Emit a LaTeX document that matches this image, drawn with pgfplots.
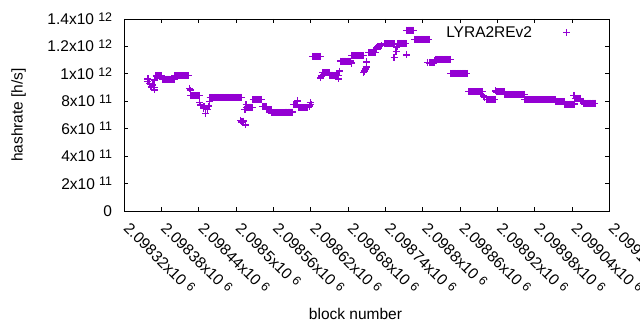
\documentclass[border=0pt]{standalone}
\usepackage{pgfplots}
\pgfplotsset{compat=1.18}
\usepackage{pgfplotstable}
\usepackage{fontspec}
\setmainfont{Liberation Sans}
\definecolor{lyra}{HTML}{9400D3}
\newcommand{\sci}[2]{#1x10\hspace{4.3bp}\raisebox{3.3bp}{\fontsize{12.4bp}{12bp}\selectfont #2}}

\pgfplotstableread{
x y
2098358 0.963e12
2098358 0.943e12
2098361 0.930e12
2098363 0.910e12
2098364 0.905e12
2098366 0.920e12
2098368 0.900e12
2098369 0.883e12
2098369 0.955e12
2098371 0.985e12
2098372 0.985e12
2098373 0.985e12
2098375 0.985e12
2098377 0.985e12
2098379 0.985e12
2098380 0.985e12
2098381 0.962e12
2098382 0.962e12
2098383 0.962e12
2098385 0.962e12
2098387 0.962e12
2098389 0.962e12
2098391 0.962e12
2098393 0.962e12
2098395 0.962e12
2098397 0.962e12
2098399 0.962e12
2098400 0.962e12
2098401 0.988e12
2098403 0.988e12
2098405 0.988e12
2098407 0.988e12
2098409 0.988e12
2098411 0.988e12
2098413 0.988e12
2098415 0.988e12
2098417 0.988e12
2098419 0.988e12
2098421 0.988e12
2098423 0.988e12
2098425 0.895e12
2098426 0.882e12
2098427 0.843e12
2098429 0.843e12
2098431 0.843e12
2098433 0.843e12
2098435 0.843e12
2098437 0.843e12
2098439 0.843e12
2098441 0.843e12
2098441 0.790e12
2098443 0.772e12
2098447 0.750e12
2098448 0.760e12
2098451 0.710e12
2098454 0.740e12
2098456 0.765e12
2098457 0.800e12
2098458 0.829e12
2098460 0.829e12
2098462 0.829e12
2098464 0.829e12
2098466 0.829e12
2098468 0.829e12
2098470 0.829e12
2098472 0.829e12
2098474 0.829e12
2098476 0.829e12
2098478 0.829e12
2098480 0.829e12
2098482 0.829e12
2098484 0.829e12
2098486 0.829e12
2098488 0.829e12
2098490 0.829e12
2098492 0.829e12
2098494 0.829e12
2098496 0.829e12
2098498 0.829e12
2098500 0.829e12
2098502 0.829e12
2098504 0.829e12
2098506 0.829e12
2098508 0.829e12
2098507 0.660e12
2098509 0.650e12
2098511 0.655e12
2098512 0.652e12
2098515 0.628e12
2098514 0.742e12
2098516 0.775e12
2098517 0.757e12
2098519 0.757e12
2098521 0.757e12
2098523 0.757e12
2098525 0.757e12
2098526 0.757e12
2098527 0.813e12
2098529 0.813e12
2098531 0.813e12
2098533 0.813e12
2098535 0.813e12
2098537 0.813e12
2098539 0.813e12
2098541 0.813e12
2098542 0.760e12
2098544 0.760e12
2098546 0.760e12
2098548 0.760e12
2098549 0.738e12
2098551 0.738e12
2098553 0.738e12
2098555 0.738e12
2098556 0.738e12
2098557 0.715e12
2098559 0.715e12
2098561 0.715e12
2098563 0.715e12
2098565 0.715e12
2098567 0.715e12
2098569 0.715e12
2098571 0.715e12
2098573 0.715e12
2098575 0.715e12
2098577 0.715e12
2098578 0.715e12
2098579 0.721e12
2098581 0.721e12
2098583 0.721e12
2098585 0.721e12
2098587 0.721e12
2098589 0.721e12
2098591 0.721e12
2098592 0.775e12
2098594 0.775e12
2098596 0.775e12
2098598 0.775e12
2098599 0.803e12
2098600 0.753e12
2098602 0.753e12
2098604 0.753e12
2098606 0.753e12
2098608 0.753e12
2098610 0.753e12
2098612 0.753e12
2098614 0.753e12
2098615 0.753e12
2098618 0.765e12
2098619 0.790e12
2098620 0.775e12
2098623 1.127e12
2098625 1.127e12
2098627 1.127e12
2098629 1.127e12
2098631 1.127e12
2098633 1.127e12
2098635 1.127e12
2098636 0.970e12
2098637 0.985e12
2098639 1.009e12
2098641 1.009e12
2098643 1.009e12
2098645 1.009e12
2098647 1.009e12
2098649 1.009e12
2098650 1.009e12
2098651 0.990e12
2098653 0.990e12
2098655 0.990e12
2098657 0.990e12
2098659 0.990e12
2098661 0.990e12
2098663 0.990e12
2098664 0.990e12
2098665 0.963e12
2098666 1.020e12
2098668 1.093e12
2098670 1.093e12
2098672 1.093e12
2098674 1.093e12
2098676 1.093e12
2098678 1.093e12
2098680 1.093e12
2098682 1.093e12
2098683 1.093e12
2098685 1.078e12
2098686 1.133e12
2098688 1.133e12
2098690 1.133e12
2098692 1.133e12
2098694 1.133e12
2098696 1.133e12
2098698 1.133e12
2098700 1.133e12
2098702 1.133e12
2098704 1.133e12
2098705 1.012e12
2098706 1.020e12
2098708 1.035e12
2098709 1.050e12
2098710 1.087e12
2098713 1.155e12
2098715 1.155e12
2098717 1.155e12
2098719 1.155e12
2098721 1.155e12
2098723 1.155e12
2098724 1.155e12
2098725 1.185e12
2098726 1.190e12
2098728 1.200e12
2098731 1.200e12
2098734 1.205e12
2098738 1.218e12
2098740 1.218e12
2098742 1.218e12
2098744 1.218e12
2098746 1.218e12
2098748 1.218e12
2098750 1.218e12
2098752 1.218e12
2098754 1.218e12
2098755 1.218e12
2098754 1.121e12
2098757 1.165e12
2098758 1.190e12
2098759 1.200e12
2098760 1.223e12
2098762 1.223e12
2098764 1.223e12
2098766 1.223e12
2098768 1.223e12
2098770 1.223e12
2098772 1.223e12
2098773 1.223e12
2098774 1.138e12
2098774 1.318e12
2098776 1.318e12
2098778 1.318e12
2098780 1.318e12
2098782 1.318e12
2098784 1.318e12
2098785 1.318e12
2098787 1.252e12
2098789 1.252e12
2098791 1.252e12
2098793 1.252e12
2098795 1.252e12
2098797 1.252e12
2098799 1.252e12
2098801 1.252e12
2098803 1.252e12
2098805 1.252e12
2098807 1.252e12
2098809 1.252e12
2098810 1.252e12
2098808 1.082e12
2098811 1.080e12
2098813 1.080e12
2098815 1.080e12
2098817 1.080e12
2098818 1.080e12
2098819 1.095e12
2098820 1.105e12
2098822 1.105e12
2098824 1.105e12
2098826 1.105e12
2098828 1.105e12
2098830 1.105e12
2098832 1.105e12
2098834 1.105e12
2098836 1.105e12
2098838 1.105e12
2098840 1.105e12
2098842 1.105e12
2098844 1.105e12
2098845 1.004e12
2098847 1.004e12
2098849 1.004e12
2098851 1.004e12
2098853 1.004e12
2098855 1.004e12
2098857 1.004e12
2098859 1.004e12
2098861 1.004e12
2098863 1.004e12
2098865 1.004e12
2098867 1.004e12
2098869 1.004e12
2098871 1.004e12
2098874 0.870e12
2098876 0.870e12
2098878 0.870e12
2098880 0.870e12
2098882 0.870e12
2098884 0.870e12
2098886 0.870e12
2098888 0.870e12
2098890 0.870e12
2098892 0.870e12
2098894 0.870e12
2098896 0.870e12
2098898 0.838e12
2098899 0.828e12
2098902 0.813e12
2098904 0.813e12
2098906 0.813e12
2098908 0.813e12
2098910 0.813e12
2098912 0.813e12
2098914 0.813e12
2098916 0.813e12
2098917 0.875e12
2098919 0.868e12
2098921 0.868e12
2098923 0.868e12
2098925 0.868e12
2098927 0.868e12
2098929 0.868e12
2098931 0.868e12
2098932 0.851e12
2098934 0.851e12
2098936 0.851e12
2098938 0.851e12
2098940 0.851e12
2098942 0.851e12
2098944 0.851e12
2098946 0.851e12
2098948 0.851e12
2098950 0.851e12
2098952 0.851e12
2098954 0.851e12
2098956 0.851e12
2098958 0.851e12
2098960 0.851e12
2098962 0.851e12
2098963 0.851e12
2098964 0.813e12
2098966 0.813e12
2098968 0.813e12
2098970 0.813e12
2098972 0.813e12
2098974 0.813e12
2098976 0.813e12
2098978 0.813e12
2098980 0.813e12
2098982 0.813e12
2098984 0.813e12
2098986 0.813e12
2098988 0.813e12
2098990 0.813e12
2098992 0.813e12
2098994 0.813e12
2098996 0.813e12
2098998 0.813e12
2099000 0.813e12
2099002 0.813e12
2099004 0.813e12
2099006 0.813e12
2099008 0.813e12
2099010 0.813e12
2099012 0.813e12
2099013 0.813e12
2099014 0.796e12
2099016 0.796e12
2099018 0.796e12
2099020 0.796e12
2099022 0.796e12
2099024 0.796e12
2099026 0.796e12
2099027 0.796e12
2099029 0.779e12
2099031 0.779e12
2099033 0.779e12
2099035 0.779e12
2099037 0.779e12
2099039 0.779e12
2099041 0.779e12
2099043 0.779e12
2099044 0.779e12
2099043 0.840e12
2099045 0.822e12
2099047 0.822e12
2099049 0.822e12
2099051 0.822e12
2099053 0.822e12
2099054 0.810e12
2099056 0.800e12
2099058 0.786e12
2099060 0.786e12
2099062 0.786e12
2099064 0.786e12
2099066 0.786e12
2099068 0.786e12
2099070 0.786e12
2099072 0.786e12
2099074 0.786e12
2099076 0.786e12
2099077 0.786e12
}\hashdata

\begin{document}
\begin{tikzpicture}[font=\fontsize{15.5bp}{18bp}\selectfont]
\useasboundingbox (0,0) rectangle (640bp,330bp);
\begin{axis}[
  at={(124.3bp,119bp)}, anchor=south west,
  scale only axis, width=485bp, height=192bp,
  xmin=2098320, xmax=2099100, ymin=0, ymax=1.4e12,
  x coord trafo/.code={\edef\pgfmathresult{\the\numexpr#1-2098320\relax}},
  xtick={2098320,2098380,2098440,2098500,2098560,2098620,2098680,2098740,2098800,2098860,2098920,2098980,2099040,2099100},
  xticklabels={\sci{2.09832}{6},\sci{2.09838}{6},\sci{2.09844}{6},\sci{2.0985}{6},\sci{2.09856}{6},\sci{2.09862}{6},\sci{2.09868}{6},\sci{2.09874}{6},\sci{2.0988}{6},\sci{2.09886}{6},\sci{2.09892}{6},\sci{2.09898}{6},\sci{2.09904}{6},\sci{2.0991}{6}},
  ytick={0,2e11,4e11,6e11,8e11,1e12,1.2e12,1.4e12},
  yticklabels={0,\sci{2}{11},\sci{4}{11},\sci{6}{11},\sci{8}{11},\sci{1}{12},\sci{1.2}{12},\sci{1.4}{12}},
  scaled x ticks=false, scaled y ticks=false,
  tick align=inside,
  major tick length=4bp,
  axis line style={line width=0.9bp},
  every tick/.style={black, line width=0.9bp},
  yticklabel style={anchor=base east, inner sep=0pt, xshift=-12bp, yshift=-5.5bp},
  xticklabel style={inner sep=0pt, xshift=-1.5bp, yshift=-18.5bp, rotate=-45, anchor=base west},
  legend plot pos=right,
  legend cell align=right,
  legend image code/.code={\path (0bp,0bp); \draw[#1] plot coordinates {(34bp,0bp)};},
  legend style={draw=none, fill=none, inner sep=0pt, column sep=0pt, nodes={inner sep=0pt},
    at={(0.92,0.9286)}, anchor=east},
]
\addplot[only marks, mark=+, mark size=3.5bp, line width=1.35bp, color=lyra] table[x=x, y=y] {\hashdata};
\addlegendentry{LYRA2REv2}
\end{axis}
\node[anchor=base] at (355.5bp,11bp) {block number};
\node[rotate=90, anchor=base] at (22.7bp,215bp) {hashrate [h/s]};
\end{tikzpicture}
\end{document}
